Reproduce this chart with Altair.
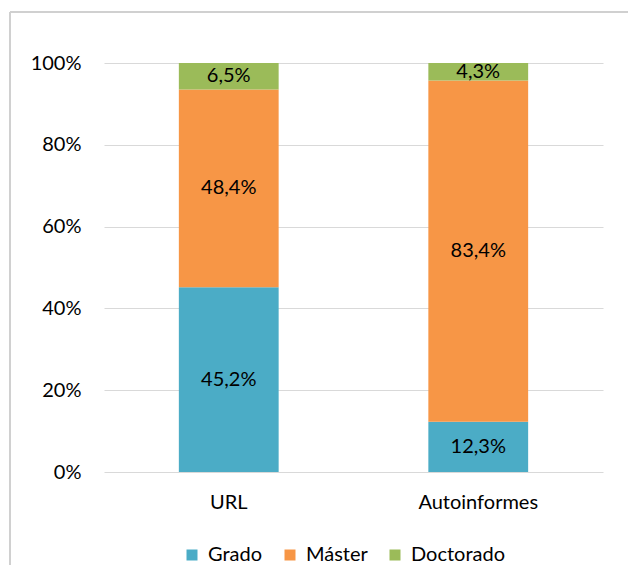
import altair as alt
import pandas as pd

categories = ["URL", "Autoinformes"]
series = ["Grado", "Máster", "Doctorado"]
grado = [45.2, 12.3]
master = [48.4, 83.4]
doctorado = [6.5, 4.3]
colors = ["#4BACC6", "#F79646", "#9BBB59"]

rows = []
for i, c in enumerate(categories):
    for j, (s, vals) in enumerate(zip(series, [grado, master, doctorado])):
        rows.append({"cat": c, "serie": s, "idx": j, "v": vals[i]})
df = pd.DataFrame(rows)

FONT = "Lato"

base = alt.Chart(df).transform_stack(
    stack="v", as_=["v0", "v1"], groupby=["cat"],
    sort=[alt.SortField("idx", order="ascending")], offset="normalize"
).transform_calculate(
    mid="(datum.v0 + datum.v1) / 2",
    label="replace(format(datum.v, '.1f'), '.', ',') + '%'"
)

xenc = alt.X("cat:N", sort=categories, title=None,
             scale=alt.Scale(paddingInner=0.6, paddingOuter=0.3),
             axis=alt.Axis(labelAngle=0, domain=False, ticks=False, grid=False,
                           labelFontSize=20, labelFont=FONT, labelColor="#000000",
                           labelPadding=20))

bars = base.mark_bar().encode(
    x=xenc,
    y=alt.Y("v0:Q", scale=alt.Scale(domain=[0, 1]), title=None,
            axis=alt.Axis(values=[0, 0.2, 0.4, 0.6, 0.8, 1.0], format=".0%",
                          domain=False, ticks=False, gridColor="#D9D9D9",
                          gridWidth=1.2, labelFontSize=20, labelFont=FONT,
                          labelColor="#000000", labelPadding=23)),
    y2="v1:Q",
    color=alt.Color("serie:N", scale=alt.Scale(domain=series, range=colors),
                    legend=alt.Legend(title=None, orient="none", direction="horizontal",
                                      legendX=78, legendY=482, symbolType="square",
                                      symbolSize=121, symbolStrokeWidth=0,
                                      labelFontSize=20, labelFont=FONT,
                                      labelColor="#000000", labelOffset=6,
                                      columnPadding=17)),
)

texts = base.mark_text(fontSize=20, font=FONT, color="#000000").encode(
    x=alt.X("cat:N", sort=categories),
    y=alt.Y("mid:Q"),
    text="label:N",
)

frame_df = pd.DataFrame({"a": [0]})
left_line = alt.Chart(frame_df).mark_rule(color="#D0D0D0", strokeWidth=2).encode(
    x=alt.value(-94), y=alt.value(-51), y2=alt.value(520))
top_line = alt.Chart(frame_df).mark_rule(color="#D0D0D0", strokeWidth=2).encode(
    x=alt.value(-94), x2=alt.value(540), y=alt.value(-51))

chart = alt.layer(bars, texts, left_line, top_line).properties(
    width=499, height=409,
    padding={"left": 96, "top": 55, "right": 25, "bottom": 93},
    autosize=alt.AutoSizeParams(type="none"),
    background="white",
).configure_view(strokeWidth=0, stroke="transparent")

chart.save("out.html", embed_options={"renderer": "svg", "actions": False})
